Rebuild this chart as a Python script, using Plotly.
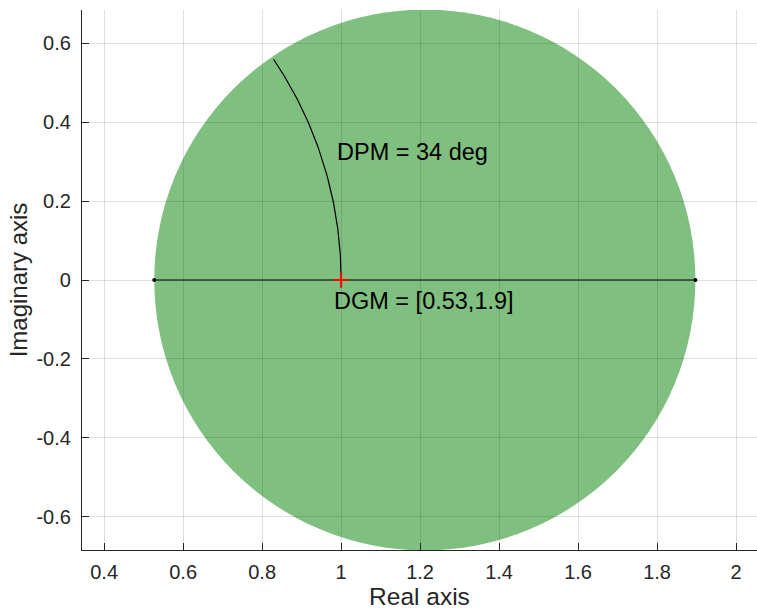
import numpy as np
import plotly.graph_objects as go

# ---- data ----
gain_margin = [0.527, 1.897]      # DGM interval (gmin, gmax)
phase_margin_deg = 34             # DPM
critical_point = [1.0, 0.0]
dpm_label = "DPM = 34 deg"
dgm_label = "DGM = [0.53,1.9]"
x_tick_vals = [0.4, 0.6, 0.8, 1.0, 1.2, 1.4, 1.6, 1.8, 2.0]
x_tick_text = ["0.4", "0.6", "0.8", "1", "1.2", "1.4", "1.6", "1.8", "2"]
y_tick_vals = [-0.6, -0.4, -0.2, 0.0, 0.2, 0.4, 0.6]
y_tick_text = ["-0.6", "-0.4", "-0.2", "0", "0.2", "0.4", "0.6"]

gmin, gmax = gain_margin
radius = (gmax - gmin) / 2

AX = "#262626"
FONT = "Liberation Sans, Arial, Helvetica, sans-serif"

fig = go.Figure()

# disk
fig.add_shape(type="circle", xref="x", yref="y",
              x0=gmin, x1=gmax, y0=-radius, y1=radius,
              fillcolor="rgba(0,128,0,0.5)", line=dict(width=0),
              layer="below")

# gain-margin segment with end dots
fig.add_trace(go.Scatter(x=[gmin, gmax], y=[0, 0], mode="lines+markers",
                         line=dict(color="black", width=1.2),
                         marker=dict(color="black", size=4),
                         hoverinfo="skip", showlegend=False))

# phase-margin arc on the unit circle
th = np.deg2rad(np.linspace(0, phase_margin_deg, 80))
fig.add_trace(go.Scatter(x=np.cos(th), y=np.sin(th), mode="lines",
                         line=dict(color="black", width=1.2),
                         hoverinfo="skip", showlegend=False))

# critical point
fig.add_trace(go.Scatter(x=[critical_point[0]], y=[critical_point[1]], mode="markers",
                         marker=dict(symbol="cross-thin", size=11,
                                     line=dict(color="red", width=2), color="red"),
                         hoverinfo="skip", showlegend=False))

fig.add_annotation(x=0.985, y=0.325, text=dpm_label, showarrow=False,
                   xanchor="left", yanchor="middle",
                   font=dict(family=FONT, size=23.5, color="black"))
fig.add_annotation(x=0.978, y=-0.052, text=dgm_label, showarrow=False,
                   xanchor="left", yanchor="middle",
                   font=dict(family=FONT, size=23.5, color="black"))

axis_common = dict(showline=True, linecolor=AX, linewidth=1.3, mirror=False,
                   ticks="inside", ticklen=7, tickcolor=AX, tickwidth=1,
                   showgrid=True, gridcolor="rgba(38,38,38,0.15)", gridwidth=1,
                   zeroline=False, tickfont=dict(family=FONT, size=20, color=AX))

fig.update_xaxes(range=[0.344, 2.053], tickmode="array",
                 tickvals=x_tick_vals, ticktext=x_tick_text,
                 title=dict(text="Real axis", font=dict(family=FONT, size=24.5, color=AX),
                            standoff=2),
                 ticklabelstandoff=4, **axis_common)
fig.update_yaxes(range=[-0.684, 0.684], tickmode="array",
                 tickvals=y_tick_vals, ticktext=y_tick_text,
                 title=dict(text="Imaginary axis", font=dict(family=FONT, size=24, color=AX),
                            standoff=1),
                 ticklabelstandoff=6, **axis_common)

fig.update_layout(width=757, height=612, autosize=False,
                  margin=dict(l=82, r=0, t=10, b=62),
                  plot_bgcolor="white", paper_bgcolor="white",
                  showlegend=False)

fig.write_html("out.html", config={"displayModeBar": False})
